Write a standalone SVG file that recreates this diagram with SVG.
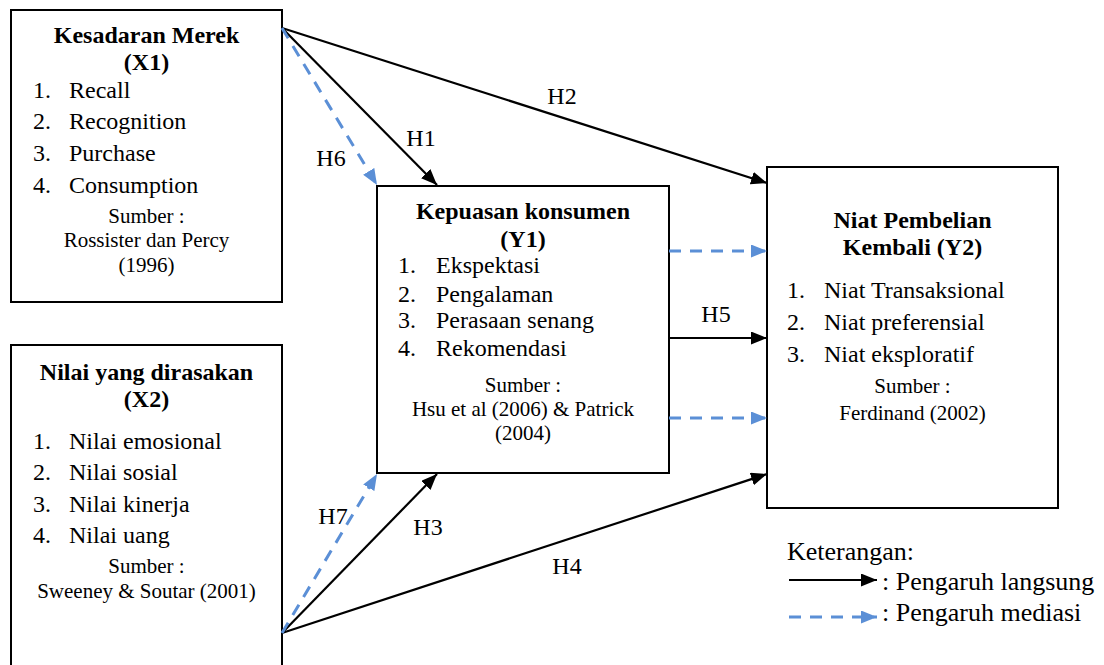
<svg xmlns="http://www.w3.org/2000/svg" width="1104" height="665" viewBox="0 0 1104 665" font-family="'Liberation Serif', 'DejaVu Serif', serif">
<style>
.box{fill:#fff;stroke:#000;stroke-width:2}
text{font-family:'Liberation Serif','DejaVu Serif',serif;fill:#000}
.t{font-size:24px;font-weight:bold;text-anchor:middle}
.i{font-size:24px}
.s{font-size:21px;text-anchor:middle}
.h{font-size:24px;text-anchor:middle}
.lg{font-size:26px}
.solid{stroke:#000;stroke-width:2.2;fill:none;marker-end:url(#ab)}
.dash{stroke:#5B8FD6;stroke-width:3;stroke-dasharray:12 9;fill:none;marker-end:url(#au)}
</style>
<defs>
<marker id="ab" markerUnits="userSpaceOnUse" markerWidth="18" markerHeight="14" refX="16" refY="6.5" orient="auto" viewBox="0 0 18 14">
<path d="M0,0 L16,6.5 L0,13 Z" fill="#000"/>
</marker>
<marker id="au" markerUnits="userSpaceOnUse" markerWidth="18" markerHeight="14" refX="16" refY="6.5" orient="auto" viewBox="0 0 18 14">
<path d="M0,0 L16,6.5 L0,13 Z" fill="#5B8FD6"/>
</marker>
</defs>

<g id="X1">
<rect class="box" x="11" y="10" width="271" height="292"/>
<text class="t" x="146.5" y="43">Kesadaran Merek</text>
<text class="t" x="146.5" y="70">(X1)</text>
<text class="i" x="33" y="98">1.</text><text class="i" x="69" y="98">Recall</text>
<text class="i" x="33" y="129">2.</text><text class="i" x="69" y="129">Recognition</text>
<text class="i" x="33" y="161">3.</text><text class="i" x="69" y="161">Purchase</text>
<text class="i" x="33" y="193">4.</text><text class="i" x="69" y="193">Consumption</text>
<text class="s" x="146.5" y="223">Sumber :</text>
<text class="s" x="146.5" y="247">Rossister dan Percy</text>
<text class="s" x="146.5" y="272">(1996)</text>
</g>

<g id="X2">
<rect class="box" x="11" y="345" width="271" height="330"/>
<text class="t" x="146.5" y="380">Nilai yang dirasakan</text>
<text class="t" x="146.5" y="407">(X2)</text>
<text class="i" x="33" y="449">1.</text><text class="i" x="69" y="449">Nilai emosional</text>
<text class="i" x="33" y="480">2.</text><text class="i" x="69" y="480">Nilai sosial</text>
<text class="i" x="33" y="512">3.</text><text class="i" x="69" y="512">Nilai kinerja</text>
<text class="i" x="33" y="543">4.</text><text class="i" x="69" y="543">Nilai uang</text>
<text class="s" x="146.5" y="573">Sumber :</text>
<text class="s" x="146.5" y="598">Sweeney &amp; Soutar (2001)</text>
</g>

<g id="Y1">
<rect class="box" x="377" y="186" width="292" height="287"/>
<text class="t" x="523" y="219">Kepuasan konsumen</text>
<text class="t" x="523" y="247">(Y1)</text>
<text class="i" x="398" y="273">1.</text><text class="i" x="436" y="273">Ekspektasi</text>
<text class="i" x="398" y="302">2.</text><text class="i" x="436" y="302">Pengalaman</text>
<text class="i" x="398" y="328">3.</text><text class="i" x="436" y="328">Perasaan senang</text>
<text class="i" x="398" y="356">4.</text><text class="i" x="436" y="356">Rekomendasi</text>
<text class="s" x="523" y="392">Sumber :</text>
<text class="s" x="523" y="416">Hsu et al (2006) &amp; Patrick</text>
<text class="s" x="523" y="440">(2004)</text>
</g>

<g id="Y2">
<rect class="box" x="767" y="167" width="291" height="341"/>
<text class="t" x="912.5" y="228">Niat Pembelian</text>
<text class="t" x="912.5" y="255">Kembali (Y2)</text>
<text class="i" x="787" y="298">1.</text><text class="i" x="824" y="298">Niat Transaksional</text>
<text class="i" x="787" y="330">2.</text><text class="i" x="824" y="330">Niat preferensial</text>
<text class="i" x="787" y="362">3.</text><text class="i" x="824" y="362">Niat eksploratif</text>
<text class="s" x="912.5" y="393">Sumber :</text>
<text class="s" x="912.5" y="420">Ferdinand (2002)</text>
</g>

<g id="connectors">
<line class="solid" x1="282" y1="28" x2="767" y2="183"/>
<line class="solid" x1="282" y1="28" x2="437" y2="185"/>
<line class="dash" x1="282" y1="28" x2="377" y2="185"/>
<line class="solid" x1="282" y1="633" x2="767" y2="474"/>
<line class="solid" x1="282" y1="633" x2="437" y2="474"/>
<line class="dash" x1="282" y1="633" x2="377" y2="474"/>
<line class="dash" x1="669" y1="251" x2="767" y2="251"/>
<line class="solid" x1="669" y1="338" x2="767" y2="338"/>
<line class="dash" x1="669" y1="418" x2="767" y2="418"/>
<text class="h" x="562" y="104">H2</text>
<text class="h" x="421" y="146">H1</text>
<text class="h" x="331" y="166">H6</text>
<text class="h" x="716" y="322">H5</text>
<text class="h" x="333" y="524">H7</text>
<text class="h" x="428" y="535">H3</text>
<text class="h" x="567" y="574">H4</text>
</g>

<g id="legend">
<text class="lg" x="787" y="560">Keterangan:</text>
<line class="solid" x1="789" y1="580" x2="877" y2="580"/>
<text class="lg" x="882" y="590">: Pengaruh langsung</text>
<line class="dash" x1="789" y1="617" x2="877" y2="617"/>
<text class="lg" x="882" y="621">: Pengaruh mediasi</text>
</g>
</svg>
